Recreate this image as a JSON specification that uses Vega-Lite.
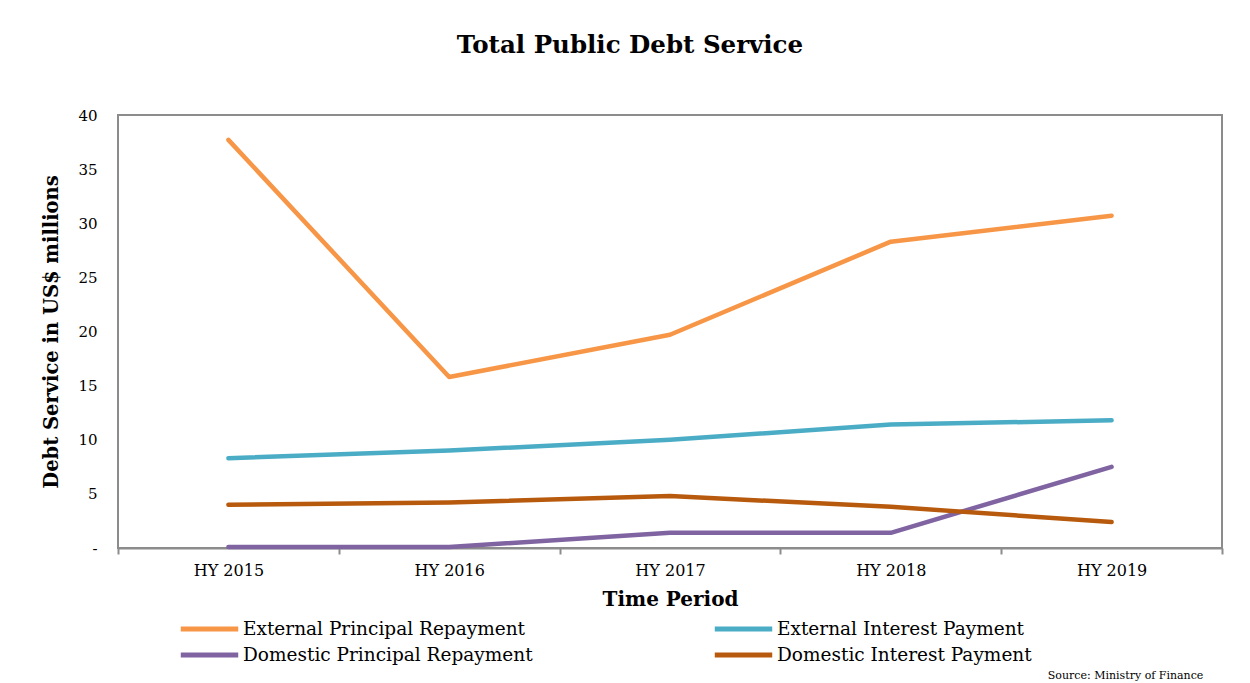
{
  "$schema": "https://vega.github.io/schema/vega-lite/v6.json",
  "autosize": {"type": "none"},
  "width": 1104,
  "height": 433,
  "padding": {"left": 118, "top": 115, "right": 28, "bottom": 135},
  "background": "white",
  "config": {
    "font": "DejaVu Serif",
    "view": {"stroke": "#8c8c8c", "strokeWidth": 2}
  },
  "title": {
    "text": "Total Public Debt Service",
    "font": "DejaVu Serif",
    "fontSize": 24.5,
    "fontWeight": "bold",
    "color": "black",
    "anchor": "middle",
    "dx": -40,
    "offset": 50
  },
  "data": {
    "values": [
      {"period": "HY 2015", "series": "External Principal Repayment", "value": 37.7},
      {"period": "HY 2016", "series": "External Principal Repayment", "value": 15.8},
      {"period": "HY 2017", "series": "External Principal Repayment", "value": 19.7},
      {"period": "HY 2018", "series": "External Principal Repayment", "value": 28.3},
      {"period": "HY 2019", "series": "External Principal Repayment", "value": 30.7},
      {"period": "HY 2015", "series": "External Interest Payment", "value": 8.3},
      {"period": "HY 2016", "series": "External Interest Payment", "value": 9.0},
      {"period": "HY 2017", "series": "External Interest Payment", "value": 10.0},
      {"period": "HY 2018", "series": "External Interest Payment", "value": 11.4},
      {"period": "HY 2019", "series": "External Interest Payment", "value": 11.8},
      {"period": "HY 2015", "series": "Domestic Principal Repayment", "value": 0.1},
      {"period": "HY 2016", "series": "Domestic Principal Repayment", "value": 0.1},
      {"period": "HY 2017", "series": "Domestic Principal Repayment", "value": 1.4},
      {"period": "HY 2018", "series": "Domestic Principal Repayment", "value": 1.4},
      {"period": "HY 2019", "series": "Domestic Principal Repayment", "value": 7.5},
      {"period": "HY 2015", "series": "Domestic Interest Payment", "value": 4.0},
      {"period": "HY 2016", "series": "Domestic Interest Payment", "value": 4.2},
      {"period": "HY 2017", "series": "Domestic Interest Payment", "value": 4.8},
      {"period": "HY 2018", "series": "Domestic Interest Payment", "value": 3.8},
      {"period": "HY 2019", "series": "Domestic Interest Payment", "value": 2.4}
    ]
  },
  "layer": [
    {
      "mark": {"type": "line", "strokeWidth": 4.5, "strokeCap": "round", "strokeJoin": "round"},
      "encoding": {
        "x": {
          "field": "period",
          "type": "nominal",
          "scale": {"paddingInner": 0, "paddingOuter": 0},
          "axis": {
            "title": "Time Period",
            "titleFont": "DejaVu Serif",
            "titleFontSize": 20,
            "titleFontWeight": "bold",
            "titleColor": "black",
            "titlePadding": 11,
            "labelAngle": 0,
            "labelFont": "DejaVu Serif",
            "labelFontSize": 16,
            "labelColor": "black",
            "labelPadding": 8,
            "tickBand": "extent",
            "tickColor": "#8c8c8c",
            "tickSize": 6,
            "tickWidth": 2,
            "domainColor": "#8c8c8c",
            "domainWidth": 2
          }
        },
        "y": {
          "field": "value",
          "type": "quantitative",
          "scale": {"domain": [0, 40], "nice": false},
          "axis": {
            "title": "Debt Service in US$ millions",
            "titleFont": "DejaVu Serif",
            "titleFontSize": 19.5,
            "titleFontWeight": "bold",
            "titleColor": "black",
            "titlePadding": 16,
            "values": [0, 5, 10, 15, 20, 25, 30, 35, 40],
            "labelExpr": "datum.value == 0 ? '-' : datum.label",
            "labelFont": "DejaVu Serif",
            "labelFontSize": 15,
            "labelColor": "black",
            "labelPadding": 21,
            "ticks": false,
            "grid": false,
            "domain": false
          }
        },
        "color": {
          "field": "series",
          "type": "nominal",
          "sort": ["External Principal Repayment", "External Interest Payment", "Domestic Principal Repayment", "Domestic Interest Payment"],
          "scale": {
            "domain": ["External Principal Repayment", "External Interest Payment", "Domestic Principal Repayment", "Domestic Interest Payment"],
            "range": ["#F79646", "#4BACC6", "#8064A2", "#B85A0D"]
          },
          "legend": {
            "title": null,
            "orient": "none",
            "legendX": 60,
            "legendY": 502,
            "direction": "horizontal",
            "columns": 2,
            "symbolType": "stroke",
            "symbolSize": 3300,
            "symbolStrokeWidth": 5,
            "clipHeight": 24,
            "labelFont": "DejaVu Serif",
            "labelFontSize": 18.5,
            "labelColor": "black",
            "labelOffset": 2,
            "labelLimit": 400,
            "columnPadding": 179,
            "rowPadding": 2
          }
        }
      }
    },
    {
      "data": {"values": [{"period": "HY 2019", "value": -11.3, "label": "Source: Ministry of Finance"}]},
      "mark": {"type": "text", "fontSize": 11, "font": "DejaVu Serif", "baseline": "top", "align": "center", "dx": 14, "color": "black"},
      "encoding": {
        "x": {"field": "period", "type": "nominal"},
        "y": {"field": "value", "type": "quantitative"},
        "text": {"field": "label"}
      }
    }
  ]
}
